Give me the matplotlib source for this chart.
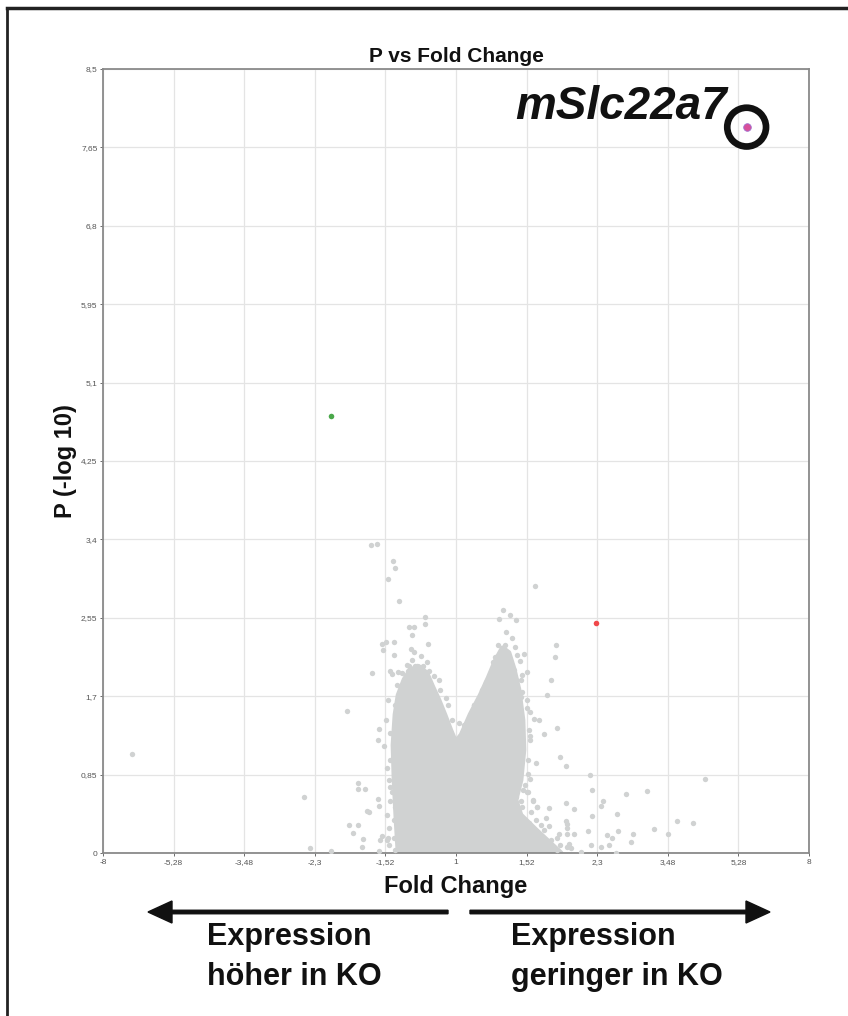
import matplotlib
matplotlib.use("Agg")
import matplotlib.pyplot as plt
from matplotlib.lines import Line2D
from matplotlib.patches import FancyArrow

plt.rcParams['font.family'] = ['Liberation Sans', 'DejaVu Sans']

# ---------------- data ----------------
x_tick_pos = [-3.0, -2.4, -1.8, -1.2, -0.6, 0.0, 0.6, 1.2, 1.8, 2.4, 3.0]
x_tick_labels = ["-8", "-5,28", "-3,48", "-2,3", "-1,52", "1", "1,52", "2,3", "3,48", "5,28", "8"]
y_tick_pos = [0, 0.85, 1.7, 2.55, 3.4, 4.25, 5.1, 5.95, 6.8, 7.65, 8.5]
y_tick_labels = ["0", "0,85", "1,7", "2,55", "3,4", "4,25", "5,1", "5,95", "6,8", "7,65", "8,5"]

# dense core of the gene cloud (outline, log2 FC vs -log10 P)
core_x = [-0.489, -0.506, -0.523, -0.532, -0.515, -0.489, -0.438, -0.387, -0.319, -0.251,
          -0.20, -0.149, -0.098, -0.047, -0.004, 0.047, 0.123, 0.209, 0.277, 0.336,
          0.396, 0.447, 0.489, 0.532, 0.566, 0.574, 0.549, 0.506, 0.549, 0.677,
          0.787, 0.889]
core_y = [0.0, 0.358, 0.79, 1.17, 1.50, 1.71, 1.88, 1.98, 2.02, 1.95,
          1.80, 1.66, 1.50, 1.33, 1.20, 1.28, 1.50, 1.71, 1.90, 2.08,
          2.22, 2.17, 2.00, 1.77, 1.44, 1.12, 0.79, 0.575, 0.41, 0.25,
          0.12, 0.0]

# individual genes outside the core
gene_x = [-2.75, -1.29, -1.244, -1.062, -0.926, -0.833, -0.833, -0.77, -0.912, -0.833,
          -0.878, -0.79, -0.80, -0.756, -0.736, -0.71, -0.719, -0.671, -0.534, -0.517,
          -0.58, -0.487, -0.26, -0.26, -0.396, -0.359, -0.376, -0.628, -0.591, -0.529,
          -0.623, -0.529, -0.381, -0.24, -0.373, -0.40, -0.345, -0.28, -0.557, -0.543,
          -0.23, -0.146, -0.657, -0.666, -0.609, -0.666, -0.657, -0.585, -0.643, -0.657,
          -0.58, -0.081,
          -0.415, -0.33, -0.458, -0.407, -0.373, -0.50, -0.444, -0.415, -0.33, -0.302,
          -0.189, -0.217, -0.515, -0.50, -0.458, -0.117, -0.104, -0.557, -0.529, -0.075,
          -0.07, 0.024, 0.223, 0.151, 0.194, 0.266, -0.032, 0.01, -0.572, -0.557,
          -0.557, -0.515, -0.529, -0.628, -0.585, -0.572, -0.515, -0.444, -0.43, -0.444,
          0.671, 0.398, 0.364, 0.455, 0.509, 0.85, 0.838, 0.804, 0.776, 0.413,
          0.50, 0.33, 0.44, 0.54, 0.58, 0.60, 0.86, 0.747, 0.662, 0.702,
          0.628, 0.628, 0.683, 0.883, 0.932, 1.139, 1.153, 2.12, 1.624, 1.445,
          1.253, 1.236, 1.369, 1.153, 0.932, 1.003, 0.79, 1.874, 2.01, 1.68,
          1.80, 1.50, 1.375, 1.125, 1.003, 0.946, 1.287, 1.33, 1.30, 1.488,
          1.147, 1.23, 1.36, 0.883, 0.96, 0.946, 0.932, 0.69, 0.657, 0.61,
          0.63, 0.61,
          0.492, 0.506, 0.549, 0.563, 0.549, 0.606, 0.628, 0.549, 0.563, 0.521,
          0.506, 0.586, 0.606, 0.492, 0.506, 0.549, 0.563, 0.657, 0.691, 0.492,
          0.521, 0.577, 0.62, 0.677, 0.719, 0.747, 0.79, 0.662, 0.691, 0.804,
          0.875, 0.946, 0.855, 0.946,
          -0.574, -0.591, -0.557, -0.583, -0.540, -0.566, -0.523, -0.481, -0.455, -0.489,
          -0.353, -0.294, -0.243, -0.183, -0.132, -0.072, -0.030, 0.072, 0.157, 0.251,
          0.311, 0.353, 0.421, 0.472, 0.515, 0.557, 0.60, 0.617, 0.609, 0.566,
          0.634, 0.762, 0.855, 0.974, 1.06, 0.762]
gene_y = [1.07, 0.61, 0.054, 0.02, 1.54, 0.76, 0.69, 0.69, 0.30, 0.30,
          0.22, 0.15, 0.06, 0.46, 0.44, 1.95, 3.34, 3.35, 3.17, 3.09,
          2.97, 2.73, 2.555, 2.48, 2.45, 2.445, 2.36, 2.27, 2.29, 2.29,
          2.20, 2.15, 2.21, 2.27, 2.09, 2.03, 2.03, 2.03, 1.97, 1.94,
          1.97, 1.88, 1.34, 1.22, 1.16, 0.59, 0.51, 0.41, 0.14, 0.025,
          0.16, 1.68,
          2.04, 2.03, 1.95, 1.97, 1.93, 1.82, 1.86, 1.82, 1.88, 1.80,
          1.66, 1.62, 1.60, 1.55, 1.51, 1.48, 1.41, 1.30, 1.24, 1.33,
          1.26, 1.41, 1.77, 1.60, 1.53, 1.69, 1.12, 1.14, 0.79, 0.72,
          0.56, 0.50, 0.36, 0.18, 0.14, 0.09, 0.03, 0.36, 0.21, 0.07,
          2.89, 2.63, 2.54, 2.58, 2.53, 2.26, 2.13, 1.88, 1.71, 2.25,
          2.23, 2.13, 2.12, 2.08, 2.16, 1.96, 1.36, 1.29, 1.45, 1.44,
          1.27, 1.23, 0.98, 1.04, 0.94, 0.85, 0.68, 0.80, 0.67, 0.635,
          0.56, 0.51, 0.42, 0.40, 0.54, 0.48, 0.49, 0.35, 0.33, 0.26,
          0.21, 0.21, 0.24, 0.24, 0.21, 0.21, 0.19, 0.16, 0.09, 0.12,
          0.09, 0.07, 0.003, 0.09, 0.10, 0.31, 0.35, 0.50, 0.57, 0.66,
          0.80, 0.86,
          1.98, 1.88, 1.88, 1.75, 1.69, 1.57, 1.53, 1.33, 1.14, 1.04,
          0.94, 0.74, 0.66, 0.68, 0.61, 0.56, 0.50, 0.56, 0.50, 0.45,
          0.39, 0.36, 0.32, 0.36, 0.30, 0.25, 0.29, 0.20, 0.14, 0.14,
          0.21, 0.27, 0.03, 0.07,
          1.66, 1.44, 1.01, 0.92, 0.66, 0.27, 0.16, 1.60, 1.77, 1.96,
          2.18, 2.14, 2.07, 1.92, 1.77, 1.60, 1.44, 1.39, 1.60, 1.85,
          2.07, 2.25, 2.40, 2.33, 2.15, 1.93, 1.66, 1.33, 1.01, 0.68,
          0.44, 0.38, 0.16, 0.05, 0.01, 0.08]

# highlighted genes
green_x, green_y = [-1.06], [4.74]
red_x, red_y = [1.187], [2.49]
hit_x, hit_y = [2.47], [7.87]
hit_name = "mSlc22a7"

# ---------------- figure ----------------
fig = plt.figure(figsize=(8.48, 10.16), dpi=100)
ax = fig.add_axes([103/848, 1-853/1016, 706/848, 784/1016])

gray = '#d0d2d2'
ax.fill(core_x, core_y, color=gray, lw=4, ec=gray, zorder=2, joinstyle='round')
ax.scatter(gene_x, gene_y, s=15, color=gray, lw=0, zorder=3)
ax.scatter(green_x, green_y, s=16, color='#4aa84a', lw=0, zorder=4)
ax.scatter(red_x, red_y, s=16, color='#f0484a', lw=0, zorder=4)
ax.scatter(hit_x, hit_y, s=30, color='#d8509a', ec='#a070d0', lw=0.6, zorder=5)
ax.scatter(hit_x, hit_y, s=780, facecolor='none', ec='#111111', lw=4.8, zorder=5)
ax.text(0.884, 0.936, hit_name, transform=ax.transAxes, ha='right', va='baseline',
        fontsize=33, fontweight='bold', fontstyle='italic', color='#111111')

ax.set_xlim(-3, 3)
ax.set_ylim(0, 8.5)
ax.set_xticks(x_tick_pos)
ax.set_xticklabels(x_tick_labels)
ax.set_yticks(y_tick_pos)
ax.set_yticklabels(y_tick_labels)
ax.tick_params(axis='both', labelsize=6, colors='#555555', length=2, width=0.6, pad=2)
ax.grid(True, color='#e4e4e4', lw=0.9, zorder=0)
ax.set_axisbelow(True)
for sp in ax.spines.values():
    sp.set_color('#8a8a8a')
    sp.set_linewidth(1.3)

ax.set_title("P vs Fold Change", fontsize=15, fontweight='bold', pad=5, color='#111111')
ax.set_xlabel("Fold Change", fontsize=17, fontweight='bold', labelpad=7, color='#111111')
ax.set_ylabel("P (-log 10)", fontsize=17, fontweight='bold', labelpad=3, color='#111111')

# arrows & direction text (figure coordinates)
W, H = 848, 1016
def fx(p): return p / W
def fy(p): return 1 - p / H
ay = 912
fig.add_artist(FancyArrow(fx(448), fy(ay), fx(148) - fx(448), 0, width=3.5/H,
                          head_width=22/H, head_length=24/W, length_includes_head=True,
                          color='#111111', transform=fig.transFigure))
fig.add_artist(FancyArrow(fx(470), fy(ay), fx(770) - fx(470), 0, width=3.5/H,
                          head_width=22/H, head_length=24/W, length_includes_head=True,
                          color='#111111', transform=fig.transFigure))
tk = dict(fontsize=22, fontweight='bold', color='#111111', ha='left', va='baseline')
fig.text(fx(207), fy(945), "Expression", **tk)
fig.text(fx(207), fy(985), "höher in KO", **tk)
fig.text(fx(511), fy(945), "Expression", **tk)
fig.text(fx(511), fy(985), "geringer in KO", **tk)

# outer frame (left and top edges visible)
fig.add_artist(Line2D([fx(7), fx(7)], [fy(8), 0], color='#222222', lw=2, transform=fig.transFigure))
fig.add_artist(Line2D([fx(7), 1], [fy(8), fy(8)], color='#222222', lw=2.5, transform=fig.transFigure))

fig.savefig("out.png", dpi=100)
